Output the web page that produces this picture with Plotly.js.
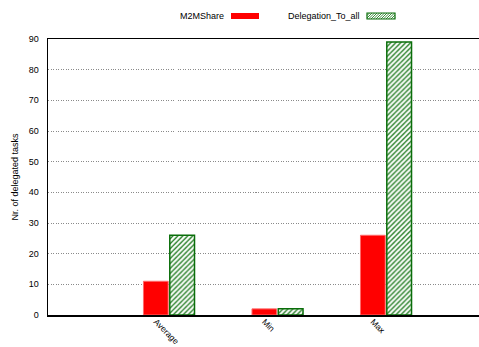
<!DOCTYPE html>
<html>
<head>
<meta charset="utf-8">
<script src="https://cdn.plot.ly/plotly-3.0.1.min.js"></script>
<style>
  html, body { margin: 0; padding: 0; background: #fff; }
  #chart { width: 479px; height: 347px; }
</style>
</head>
<body>
<div id="chart"></div>
<script>
// Delegated task counts per statistic
const categories = ['Average', 'Min', 'Max'];
const m2mShare = [11, 2, 26];
const delegationToAll = [26, 2, 89];
const seriesNames = ['M2MShare', 'Delegation_To_all'];
const yTicks = [0, 10, 20, 30, 40, 50, 60, 70, 80, 90];

const W = 479, H = 347;
const M = { l: 48, r: 0, t: 39, b: 32 };
const plotW = W - M.l - M.r, plotH = H - M.t - M.b;
// pixel -> paper helpers for the key drawn above the plot
const px = x => (x - M.l) / plotW;
const py = y => (H - M.b - y) / plotH;

const RED = '#ff0000';
const GREEN = '#0a6e0a';
const FONT = 'Liberation Sans, Arial, Helvetica, sans-serif';

const traces = [
  {
    type: 'bar', name: seriesNames[0], x: categories, y: m2mShare,
    marker: { color: RED, line: { color: '#ff6a6a', width: 1 } },
    showlegend: false, hoverinfo: 'x+y'
  },
  {
    type: 'bar', name: seriesNames[1], x: categories, y: delegationToAll,
    marker: {
      color: '#ffffff',
      line: { color: GREEN, width: 1.5 },
      pattern: { shape: '/', fgcolor: GREEN, bgcolor: '#ffffff', size: 3.5, solidity: 0.35 }
    },
    showlegend: false, hoverinfo: 'x+y'
  }
];

// key: label followed by its sample box
function keyEntry(label, textRight, yMid) {
  return {
    text: label, xref: 'paper', yref: 'paper',
    x: px(textRight), y: py(yMid), xanchor: 'right', yanchor: 'middle',
    showarrow: false, font: { family: FONT, size: 9, color: '#000' }
  };
}
const annotations = [
  keyEntry(seriesNames[0], 226, 16),
  keyEntry(seriesNames[1], 362, 16)
];

// hatched sample for the second series
function hatchPath(x0, x1, y0, y1, step) {
  let d = '';
  for (let x = x0 - (y1 - y0); x < x1; x += step) {
    let ax = x, ay = y1, bx = x + (y1 - y0), by = y0;
    if (ax < x0) { ay = y1 - (x0 - ax); ax = x0; }
    if (bx > x1) { by = y0 + (bx - x1); bx = x1; }
    if (ay <= y0 || by >= y1) continue;
    d += `M${px(ax)},${py(ay)} L${px(bx)},${py(by)} `;
  }
  return d;
}

const shapes = [
  { type: 'rect', xref: 'paper', yref: 'paper', x0: px(231), x1: px(259), y0: py(19), y1: py(13),
    fillcolor: RED, line: { width: 0 } },
  { type: 'rect', xref: 'paper', yref: 'paper', x0: px(367), x1: px(395), y0: py(19), y1: py(13),
    fillcolor: '#ffffff', line: { color: GREEN, width: 1.2 } },
  { type: 'path', xref: 'paper', yref: 'paper', path: hatchPath(367, 395, 13, 19, 2.5),
    line: { color: GREEN, width: 0.8 } }
];

const layout = {
  width: W, height: H,
  margin: M,
  paper_bgcolor: '#fff', plot_bgcolor: '#fff',
  font: { family: FONT, size: 9, color: '#000' },
  barmode: 'group', bargap: 0.515, bargroupgap: 0.06,
  showlegend: false,
  xaxis: {
    type: 'category', range: [-1.115, 2.857],
    showgrid: false, zeroline: false,
    showline: true, linecolor: '#000', linewidth: 1.5, mirror: true,
    ticks: '', tickangle: 45, ticklabelshift: -13, ticklabelstandoff: -3,
    tickfont: { family: FONT, size: 8.5, color: '#000' }
  },
  yaxis: {
    range: [0, 90], tickvals: yTicks, ticktext: yTicks.map(String),
    showgrid: true, gridcolor: '#8a8a8a', griddash: '1px,1.5px', gridwidth: 1,
    zeroline: false, showline: true, linecolor: '#000', linewidth: 1.5,
    ticks: '', ticklabelstandoff: 6,
    tickfont: { family: FONT, size: 9, color: '#000' },
    title: { text: 'Nr. of delegated tasks', font: { family: FONT, size: 9, color: '#000' }, standoff: 8 }
  },
  annotations, shapes
};

Plotly.newPlot('chart', traces, layout, { displayModeBar: false, staticPlot: true });
</script>
</body>
</html>
